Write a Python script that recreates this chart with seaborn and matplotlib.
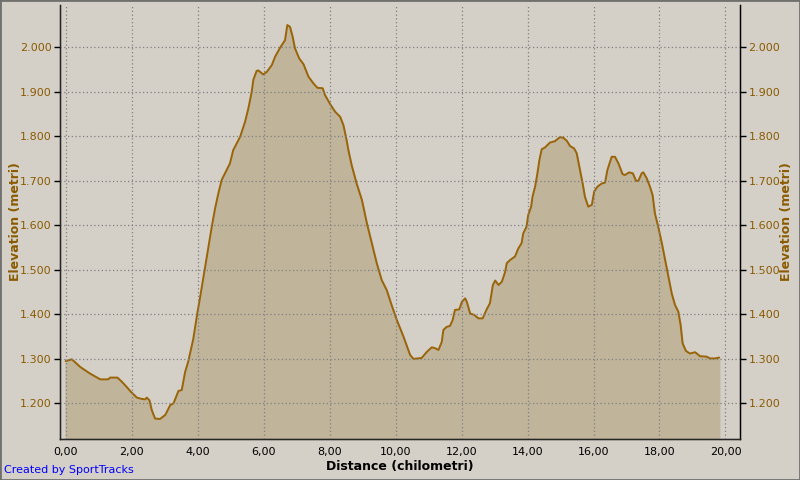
import matplotlib
matplotlib.use('Agg')
import matplotlib.pyplot as plt
import seaborn as sns
import numpy as np
import pandas as pd
from matplotlib.ticker import FuncFormatter, MultipleLocator

# elevation profile (km, metres)
distance_km = [0.00, 0.19, 0.44, 0.74, 1.05, 1.29, 1.35, 1.57, 1.70, 1.85,
               1.98, 2.16, 2.31, 2.41, 2.46, 2.54, 2.61, 2.71, 2.86, 3.02,
               3.17, 3.27, 3.42, 3.52, 3.62, 3.72, 3.87, 3.99, 4.08, 4.18,
               4.26, 4.36, 4.43, 4.53, 4.63, 4.73, 4.88, 4.98, 5.08, 5.29,
               5.44, 5.54, 5.64, 5.69, 5.79, 5.84, 5.99, 6.10, 6.25, 6.35,
               6.50, 6.65, 6.72, 6.80, 6.88, 6.95, 7.08, 7.21, 7.36, 7.51,
               7.63, 7.79, 7.86, 8.02, 8.17, 8.32, 8.42, 8.52, 8.57, 8.67,
               8.82, 8.98, 9.13, 9.28, 9.43, 9.58, 9.73, 9.88, 10.04, 10.24,
               10.44, 10.54, 10.79, 10.95, 11.10, 11.20, 11.30, 11.40, 11.45, 11.55,
               11.65, 11.73, 11.80, 11.93, 12.01, 12.11, 12.16, 12.26, 12.38, 12.51,
               12.64, 12.76, 12.86, 12.95, 13.02, 13.12, 13.22, 13.32, 13.37, 13.47,
               13.62, 13.72, 13.82, 13.87, 13.97, 14.02, 14.11, 14.15, 14.23, 14.30,
               14.36, 14.43, 14.53, 14.68, 14.83, 14.98, 15.08, 15.19, 15.29, 15.41,
               15.49, 15.57, 15.67, 15.74, 15.84, 15.95, 16.02, 16.12, 16.25, 16.35,
               16.42, 16.55, 16.65, 16.75, 16.88, 16.95, 17.08, 17.19, 17.29, 17.36,
               17.46, 17.51, 17.61, 17.71, 17.79, 17.86, 17.96, 18.07, 18.17, 18.27,
               18.37, 18.47, 18.57, 18.64, 18.70, 18.80, 18.92, 19.08, 19.23, 19.43,
               19.53, 19.68, 19.81]
elevation_m = [1295, 1299, 1282, 1267, 1254, 1254, 1258, 1258, 1249, 1237,
               1226, 1213, 1210, 1209, 1213, 1207, 1185, 1166, 1165, 1174,
               1196, 1200, 1228, 1230, 1270, 1295, 1345, 1402, 1440, 1485,
               1522, 1567, 1597, 1638, 1672, 1702, 1724, 1739, 1769, 1799,
               1833, 1863, 1900, 1927, 1947, 1948, 1939, 1945, 1960, 1979,
               1999, 2016, 2050, 2046, 2024, 1998, 1975, 1962, 1934, 1919,
               1909, 1908, 1893, 1872, 1855, 1844, 1825, 1790, 1769, 1735,
               1694, 1657, 1605, 1560, 1515, 1477, 1455, 1421, 1387, 1350,
               1309, 1300, 1302, 1316, 1326, 1324, 1320, 1338, 1365, 1372,
               1374, 1387, 1410, 1411, 1428, 1436, 1428, 1402, 1399, 1391,
               1391, 1411, 1425, 1466, 1476, 1466, 1473, 1495, 1515, 1522,
               1530, 1548, 1560, 1582, 1597, 1623, 1642, 1664, 1687, 1717,
               1747, 1771, 1775, 1786, 1789, 1798, 1797, 1790, 1778, 1773,
               1762, 1732, 1694, 1664, 1642, 1646, 1676, 1687, 1694, 1696,
               1724, 1754, 1754, 1740, 1715, 1713, 1719, 1717, 1700, 1700,
               1717, 1719, 1706, 1687, 1668, 1627, 1597, 1560, 1522, 1485,
               1447, 1421, 1406, 1376, 1335, 1318, 1312, 1315, 1306, 1305,
               1301, 1301, 1303]

x_ticks = [0, 2, 4, 6, 8, 10, 12, 14, 16, 18, 20]
y_ticks = [1200, 1300, 1400, 1500, 1600, 1700, 1800, 1900, 2000]

df = pd.DataFrame({'km': distance_km, 'elev': elevation_m})

bg = '#d4d0c8'
brown = '#8b5a00'
sns.set_style('white')
plt.rcParams['font.family'] = ['DejaVu Sans']

fig = plt.figure(figsize=(8, 4.8), dpi=100, facecolor=bg)
ax = fig.add_axes([60/800, 41/480, 680/800, 434/480])
ax.set_facecolor(bg)

ax.fill_between(df['km'], df['elev'], 1000, color='#c0b49a', zorder=1)
sns.lineplot(data=df, x='km', y='elev', ax=ax, color='#9a6408', lw=1.4, zorder=2)

ax.set_xlim(-0.17, 20.44)
ax.set_ylim(1120, 2095)
ax.set_xticks(x_ticks)
ax.set_yticks(y_ticks)
ax.xaxis.set_major_formatter(FuncFormatter(lambda v, p: f'{v:.2f}'.replace('.', ',')))
yfmt = FuncFormatter(lambda v, p: f'{int(v):,}'.replace(',', '.'))
ax.yaxis.set_major_formatter(yfmt)
ax.grid(True, color='#808080', linestyle=(0, (1, 2)), linewidth=0.9)
ax.set_axisbelow(False)

for s in ['left', 'bottom', 'right']:
    ax.spines[s].set_color('black')
    ax.spines[s].set_linewidth(1.0)
ax.spines['top'].set_visible(False)
ax.tick_params(axis='both', direction='out', length=4, width=1, pad=2,
               colors='black', labelsize=8)
ax.tick_params(axis='y', labelcolor=brown)

ax.set_xlabel('Distance (chilometri)', fontsize=9, fontweight='bold', color='black', va='center')
ax.xaxis.set_label_coords(0.5, -0.063)
ax.set_ylabel('Elevation (metri)', fontsize=9, fontweight='bold', color=brown, va='center')
ax.yaxis.set_label_coords(-0.066, 0.5)

ax2 = ax.twinx()
ax2.set_ylim(ax.get_ylim())
ax2.set_yticks(y_ticks)
ax2.yaxis.set_major_formatter(yfmt)
ax2.tick_params(axis='y', direction='out', length=4, width=1, pad=2, colors='black',
                labelcolor=brown, labelsize=8)
ax2.spines['top'].set_visible(False)
ax2.spines['right'].set_color('black')
ax2.set_ylabel('Elevation (metri)', fontsize=9, fontweight='bold', color=brown,
               rotation=90, va='center')
ax2.yaxis.set_label_coords(1.069, 0.5)

fig.text(4/800, 1 - 470/480, 'Created by SportTracks', color='#0000ff', fontsize=8, va='center', ha='left')
fig.patches.append(plt.Rectangle((0, 0), 1, 1, transform=fig.transFigure, fill=False,
                                 edgecolor='#707070', linewidth=2))

fig.savefig('out.png', dpi=100, facecolor=bg)
